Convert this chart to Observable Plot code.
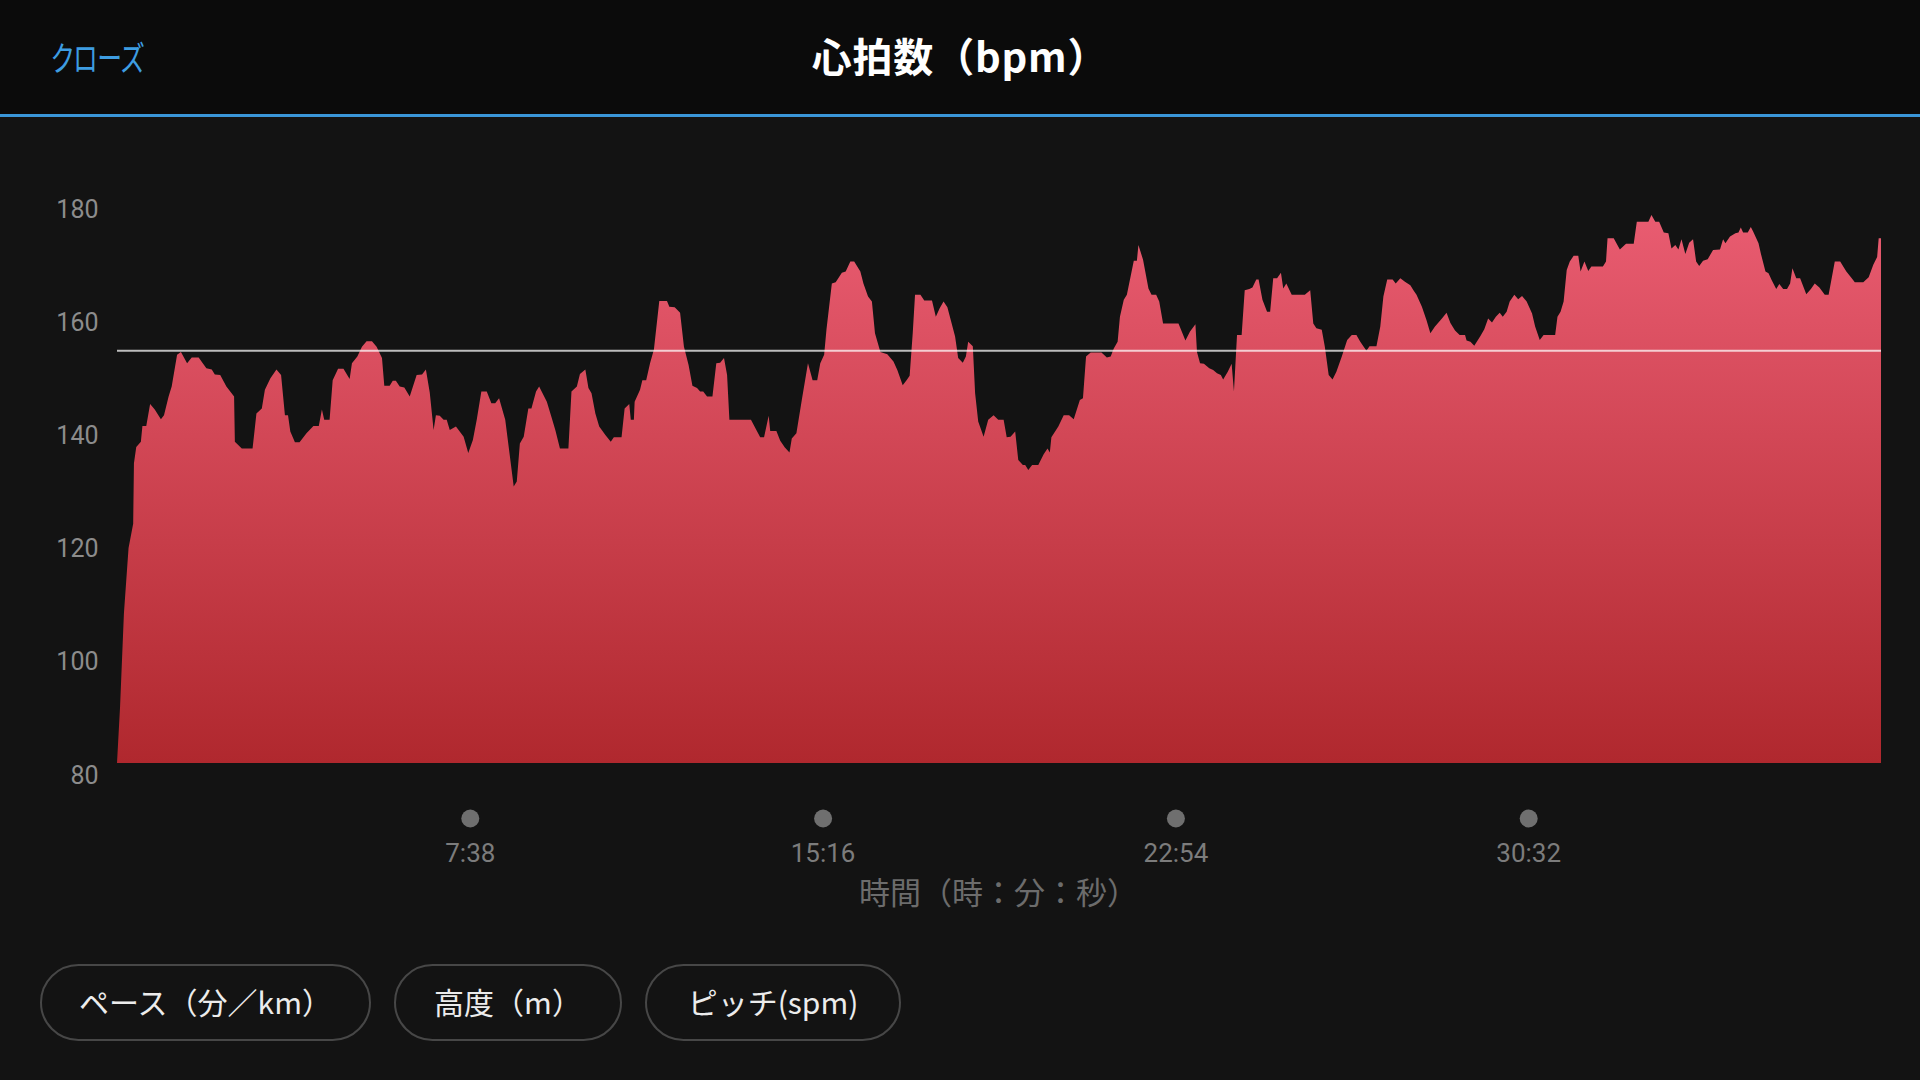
<!DOCTYPE html>
<html>
<head>
<meta charset="utf-8">
<script src="https://cdn.jsdelivr.net/npm/d3@7"></script>
<script src="https://cdn.jsdelivr.net/npm/@observablehq/plot@0.6"></script>
<style>
html,body{margin:0;padding:0;background:#131313;width:1920px;height:1080px;overflow:hidden;font-family:"Noto Sans CJK JP","Noto Sans",sans-serif;}
#header{position:absolute;left:0;top:0;width:1920px;height:114px;background:#0b0b0b;border-bottom:3px solid #3a96d8;}
#close{position:absolute;left:51px;top:56px;transform-origin:0 50%;transform:translateY(-50%) scaleX(0.73);color:#3e9de2;font-size:34px;font-feature-settings:"palt";white-space:nowrap;}
#title{position:absolute;left:960px;top:55px;transform:translate(-50%,-50%);color:#ffffff;font-size:40px;font-weight:bold;letter-spacing:0.8px;white-space:nowrap;}
#chart{position:absolute;left:0;top:117px;}
.btn{position:absolute;top:964px;height:77px;box-sizing:border-box;border:2.5px solid #474747;border-radius:40px;color:#ececec;font-size:30px;display:flex;align-items:center;justify-content:center;white-space:nowrap;padding-bottom:4px;}
</style>
</head>
<body>
<div id="header">
  <div id="close">クローズ</div>
  <div id="title">心拍数（bpm）</div>
</div>
<div id="chart"></div>
<div class="btn" style="left:40px;width:331px;">ペース（分／km）</div>
<div class="btn" style="left:394px;width:228px;">高度（m）</div>
<div class="btn" style="left:645px;width:256px;">ピッチ(spm)</div>
<script>
// elapsed time in seconds
const times = [0,4,9,15,21,22,25,31,33,38,43,49,57,61,67,71,78,83,91,97,106,116,123,127,134,142,152,153,162,176,181,188,192,199,207,213,218,222,225,231,237,246,255,262,266,269,276,280,287,294,302,305,312,318,324,331,337,344,347,354,358,362,367,373,380,389,396,401,406,411,414,419,424,428,432,440,450,456,462,467,473,480,486,491,496,504,515,519,523,528,534,538,544,548,558,564,569,575,586,590,597,601,608,612,616,621,626,634,641,645,655,659,665,667,671,672,679,682,687,692,697,704,714,717,724,731,736,742,747,753,757,761,766,773,778,783,788,792,795,823,830,835,840,846,848,856,861,867,873,876,882,889,897,903,909,913,918,921,928,933,941,946,952,957,965,969,975,980,984,991,1000,1008,1013,1020,1025,1029,1033,1036,1043,1048,1058,1063,1068,1073,1078,1088,1092,1098,1102,1105,1111,1114,1118,1125,1131,1138,1144,1151,1155,1160,1166,1170,1176,1179,1183,1188,1196,1203,1208,1211,1213,1222,1229,1236,1242,1250,1254,1258,1264,1278,1285,1290,1294,1299,1302,1307,1311,1320,1324,1326,1332,1339,1343,1349,1353,1358,1378,1387,1393,1400,1402,1406,1411,1418,1423,1428,1433,1436,1442,1447,1450,1454,1460,1464,1470,1474,1479,1482,1487,1493,1497,1501,1506,1511,1514,1518,1525,1542,1549,1553,1557,1564,1568,1573,1578,1583,1590,1597,1603,1609,1614,1622,1626,1635,1640,1644,1649,1656,1660,1666,1672,1679,1683,1687,1694,1700,1705,1711,1720,1726,1731,1737,1743,1750,1752,1757,1762,1770,1775,1780,1785,1790,1795,1799,1804,1808,1814,1819,1824,1830,1837,1841,1847,1852,1867,1870,1874,1878,1882,1886,1891,1897,1900,1905,1910,1914,1929,1933,1935,1943,1951,1959,1969,1973,1988,1992,1997,2002,2008,2014,2018,2023,2027,2031,2036,2041,2046,2050,2054,2059,2065,2072,2081,2085,2088,2094,2101,2105,2108,2111,2117,2121,2124,2131,2134,2140,2144,2148,2154,2158,2163,2168,2172,2175,2180,2185,2193,2199,2204,2210,2217,2222,2230,2237,2245,2252,2256,2267,2274,2280,2285,2287,2290];
// heart rate, bpm
const bpm = [80,90,106.5,118,122.3,133,135.9,136.8,139.6,139.6,143.5,142.5,140.8,141.5,144.8,146.6,152.2,152.7,150.7,151.7,151.7,149.8,149.6,148.7,148.6,146.6,144.8,136.8,135.6,135.6,141.8,142.7,146,148,149.6,148.6,141.5,141.5,138.6,136.7,136.7,138.3,139.6,139.6,142.5,140.7,140.7,147.7,149.7,149.7,147.9,150.7,151.9,153.6,154.6,154.6,153.6,151.6,146.7,146.7,147.6,147.6,146.6,146.4,144.8,148.6,148.7,149.6,145.5,138.9,141.5,141.4,140.7,140.7,138.9,139.5,137.7,134.8,137.1,140.7,145.7,145.7,143.6,143.6,144.5,140.7,128.9,129.8,136.5,137.7,142.7,142.7,145.7,146.6,143.9,141.2,138.9,135.6,135.6,145.7,146.6,148.8,149.6,146.3,145.4,141.8,139.5,138,136.8,137.6,137.6,142.7,143.5,140.7,140.7,143.9,146,147.7,147.7,150.7,153.1,161.7,161.7,160.7,160.6,159.6,153.6,150.4,146.7,146.3,145.7,145.7,144.8,144.8,150.7,150.8,151.6,148.6,140.7,140.7,138.9,137.6,137.6,141.4,138.7,138.7,137,135.8,134.9,137.4,138.3,144.2,150.7,147.7,147.7,150.7,152.2,156.6,164.8,165,166.7,166.9,168.7,168.7,166.9,164.8,162.5,161.6,156,152.7,152.3,151,149.5,146.8,147.7,148.5,156,162.8,162.8,161.8,161.8,158.9,160.4,161.6,160.6,155.4,151.6,150.8,151.9,154.5,153.7,145.4,140.4,137.7,140.7,141.5,140.7,140.7,137.6,137.7,138.6,133.6,132.7,132.7,131.8,132.7,132.7,134.6,135.6,134.9,137.6,139.5,141.5,141.5,140.8,144.2,144.5,151.9,152.6,152.6,151.7,151.9,153.3,154.5,158.9,161.9,162.8,168.8,168.8,171.6,169,163.9,162.8,162.8,161.6,157.7,157.7,154.7,156.3,157.6,152.7,150.7,150.6,149.8,149.5,148.9,148.6,147.8,149.2,150.6,145.7,155.7,155.7,163.6,163.8,164.1,165.5,165.5,161.9,159.8,159.8,165.7,165.7,166.7,163.9,164.8,162.8,162.8,163.6,157.7,156.9,156.6,153.6,148.6,147.8,149.2,151.9,154.8,155.7,155.7,154.5,152.9,153.7,153.7,157.2,162.5,165.5,165.5,164.8,165.7,165.1,164.5,163.6,162.8,160.7,158.3,156,157.2,158.6,159.6,157.8,156.5,155.7,155.7,154.7,154.5,153.8,155.5,156.7,158.6,157.9,158.9,159.6,158.9,159.8,161.6,162.8,162,162.6,161.6,159.5,157.2,154.8,155.7,155.7,158.9,159.8,161.6,167.2,168.7,169.7,169.7,166.9,168.7,167,167.8,167.8,168.7,172.8,172.8,170.8,171.8,171.8,175.7,175.7,176.9,175.7,175.7,173.8,173.7,171,171.6,170.8,172.6,170,172,172.6,168.7,167.9,168.8,169.1,170.7,170.8,172.6,171.9,173.1,173.7,173.8,174.7,173.8,173.8,174.8,174,171.9,170.1,166.9,166.6,165.4,163.8,164.7,163.8,163.8,164.8,167.5,165.7,165.7,162.9,163.8,164.8,164.1,162.8,162.8,168.7,168.7,166.9,165.7,165,165,165.9,168.1,169.5,172.8,172.8];
const avgBpm = 153;
const yDomain = [80, 180];
const yTicks = [80, 100, 120, 140, 160, 180];
const xDomain = [0, 2290];
const xTicks = [458, 916, 1374, 1832];
const xLabel = "時間（時：分：秒）";

const fmt = s => `${Math.floor(s / 60)}:${String(s % 60).padStart(2, "0")}`;
const data = times.map((t, i) => ({t, v: bpm[i]}));

const chart = Plot.plot({
  width: 1920,
  height: 830,
  marginTop: 80.5,
  marginBottom: 184,
  marginLeft: 117,
  marginRight: 39,
  style: {background: "transparent", fontFamily: "Roboto, 'Noto Sans', sans-serif", overflow: "visible"},
  x: {domain: xDomain, nice: false},
  y: {domain: yDomain, nice: false},
  marks: [
    Plot.areaY(data, {x: "t", y1: yDomain[0], y2: "v", fill: "url(#hrFill)", curve: "linear"}),
    Plot.ruleY([avgBpm], {stroke: "#ffffff", strokeOpacity: 0.72, strokeWidth: 2}),
    Plot.axisY(yTicks, {tickSize: 0, tickPadding: 19, dy: 12, fontSize: 25, color: "#8c8c8c", label: null}),
    Plot.axisX(xTicks, {tickSize: 0, tickPadding: 80, tickFormat: fmt, fontSize: 26, color: "#7c7c7c", label: null}),
    Plot.dot(xTicks, {x: d => d, frameAnchor: "bottom", dy: 55, r: 9, fill: "#6f6f6f", stroke: null}),
    Plot.text([xLabel], {frameAnchor: "bottom", dy: 140, dx: -1, fontSize: 31, fill: "#6c6c6c", fontFamily: "'Noto Sans CJK JP', sans-serif"})
  ]
});

const svg = chart.tagName.toLowerCase() === "svg" ? chart : chart.querySelector("svg");
const ns = "http://www.w3.org/2000/svg";
const defs = document.createElementNS(ns, "defs");
const grad = document.createElementNS(ns, "linearGradient");
grad.setAttribute("id", "hrFill");
grad.setAttribute("x1", "0"); grad.setAttribute("y1", "0");
grad.setAttribute("x2", "0"); grad.setAttribute("y2", "1");
[["0", "#e95c71"], ["1", "#b0282e"]].forEach(([o, c]) => {
  const s = document.createElementNS(ns, "stop");
  s.setAttribute("offset", o); s.setAttribute("stop-color", c);
  grad.appendChild(s);
});
defs.appendChild(grad);
svg.insertBefore(defs, svg.firstChild);
document.getElementById("chart").appendChild(chart);
</script>
</body>
</html>
